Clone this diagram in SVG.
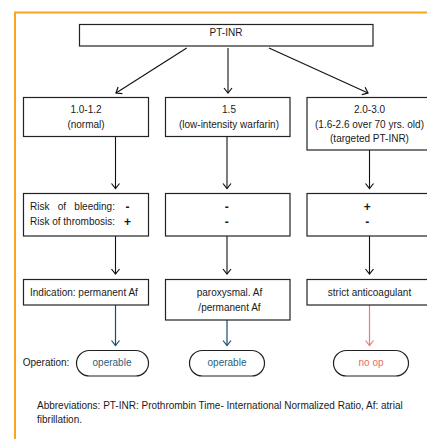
<svg xmlns="http://www.w3.org/2000/svg" width="427" height="439" viewBox="0 0 427 439">
<defs>
<style>
text{font-family:"Liberation Sans",Arial,sans-serif;font-size:10px;fill:#1a1a1a}
.c{text-anchor:middle}
.box{fill:#fff;stroke:#222;stroke-width:1.2}
.pill{fill:#fff;stroke:#222;stroke-width:1.2}
.ln{fill:none;stroke:#111;stroke-width:1.1}
.lb{fill:none;stroke:#174d6e;stroke-width:1.2}
.lr{fill:none;stroke:#ee7777;stroke-width:1.2}
.sign{font-size:12px;font-weight:bold}
.op{fill:#2d5d7b}
.no{fill:#ea6b6b}
</style>
<marker id="ak" markerUnits="userSpaceOnUse" markerWidth="12" markerHeight="12" refX="0" refY="0" viewBox="-6 -6 12 12" orient="auto" overflow="visible"><path d="M-5,-4 L0,0 L-5,4" fill="none" stroke="#111" stroke-width="1.2"/></marker>
<marker id="ab" markerUnits="userSpaceOnUse" markerWidth="12" markerHeight="12" refX="0" refY="0" viewBox="-6 -6 12 12" orient="auto" overflow="visible"><path d="M-5,-4 L0,0 L-5,4" fill="none" stroke="#174d6e" stroke-width="1.2"/></marker>
<marker id="ar" markerUnits="userSpaceOnUse" markerWidth="12" markerHeight="12" refX="0" refY="0" viewBox="-6 -6 12 12" orient="auto" overflow="visible"><path d="M-5,-4 L0,0 L-5,4" fill="none" stroke="#ee7777" stroke-width="1.2"/></marker>
</defs>
<rect width="427" height="439" fill="#fff"/>
<rect x="15" y="12.5" width="430" height="440" fill="none" stroke="#f6a623" stroke-width="2"/>

<g id="connectors">
<line class="ln" x1="186.7" y1="48" x2="116" y2="93" marker-end="url(#ak)"/>
<line class="ln" x1="228" y1="48" x2="228" y2="93" marker-end="url(#ak)"/>
<line class="ln" x1="269" y1="48" x2="368" y2="93" marker-end="url(#ak)"/>
<line class="ln" x1="115.5" y1="137" x2="115.5" y2="188.5" marker-end="url(#ak)"/>
<line class="ln" x1="227" y1="137" x2="227" y2="188.5" marker-end="url(#ak)"/>
<line class="ln" x1="369.5" y1="150" x2="369.5" y2="188.5" marker-end="url(#ak)"/>
<line class="ln" x1="115.5" y1="236" x2="115.5" y2="274" marker-end="url(#ak)"/>
<line class="ln" x1="227" y1="236" x2="227" y2="274" marker-end="url(#ak)"/>
<line class="ln" x1="369.5" y1="236" x2="369.5" y2="274" marker-end="url(#ak)"/>
<line class="lb" x1="115.5" y1="305" x2="115.5" y2="345.5" marker-end="url(#ab)"/>
<line class="lb" x1="227" y1="320" x2="227" y2="345.5" marker-end="url(#ab)"/>
<line class="lr" x1="369.5" y1="305" x2="369.5" y2="345.5" marker-end="url(#ar)"/>
</g>

<g id="n-ptinr">
<rect class="box" x="79.5" y="24.5" width="293.5" height="21.5"/>
<text class="c" x="226" y="36">PT-INR</text>
</g>

<g id="n-normal">
<rect class="box" x="23.5" y="97.5" width="125" height="39"/>
<text class="c" x="86" y="112.5">1.0-1.2</text>
<text class="c" x="86" y="127.5">(normal)</text>
</g>
<g id="n-low">
<rect class="box" x="165.5" y="97.5" width="124.5" height="39"/>
<text class="c" x="229" y="112.5">1.5</text>
<text class="c" x="229" y="127.5">(low-intensity warfarin)</text>
</g>
<g id="n-target">
<rect class="box" x="307" y="97.5" width="130" height="52.5"/>
<text class="c" x="369.5" y="112.5">2.0-3.0</text>
<text class="c" x="369.5" y="127.5">(1.6-2.6 over 70 yrs. old)</text>
<text class="c" x="369.5" y="142">(targeted PT-INR)</text>
</g>

<g id="n-risk1">
<rect class="box" x="23.5" y="193.5" width="125" height="42.5"/>
<text x="30" y="210.3" word-spacing="5.5">Risk of bleeding:</text>
<text x="30" y="225.3">Risk of thrombosis:</text>
<text class="c sign" x="127.5" y="210.8">-</text>
<text class="c sign" x="127.5" y="225.8">+</text>
</g>
<g id="n-risk2">
<rect class="box" x="165.5" y="193.5" width="124.5" height="42.5"/>
<text class="c sign" x="226.7" y="210.8">-</text>
<text class="c sign" x="226.7" y="225.8">-</text>
</g>
<g id="n-risk3">
<rect class="box" x="307" y="193.5" width="130" height="42.5"/>
<text class="c sign" x="367.3" y="210.8">+</text>
<text class="c sign" x="367.3" y="225.8">-</text>
</g>

<g id="n-ind1">
<rect class="box" x="23.5" y="279.5" width="125" height="25.5"/>
<text x="30" y="296.3">Indication: permanent Af</text>
</g>
<g id="n-ind2">
<rect class="box" x="165.5" y="279.5" width="124.5" height="40.5"/>
<text class="c" x="229.5" y="296.3">paroxysmal. Af</text>
<text class="c" x="229.5" y="311">/permanent Af</text>
</g>
<g id="n-ind3">
<rect class="box" x="307" y="279.5" width="130" height="25.5"/>
<text class="c" x="369.5" y="296.3">strict anticoagulant</text>
</g>

<text x="22.7" y="365.5">Operation:</text>
<g id="n-op1">
<rect class="pill" x="76.5" y="350.5" width="72" height="25.5" rx="12.75"/>
<text class="c op" x="112" y="365.5">operable</text>
</g>
<g id="n-op2">
<rect class="pill" x="189.5" y="350.5" width="75" height="25.5" rx="12.75"/>
<text class="c op" x="227" y="365.5">operable</text>
</g>
<g id="n-op3">
<rect class="pill" x="333.5" y="350.5" width="75" height="25.5" rx="12.75"/>
<text class="c no" x="371" y="365.5">no op</text>
</g>

<text x="37" y="408.5">Abbreviations: PT-INR: Prothrombin Time- International Normalized Ratio, Af: atrial</text>
<text x="37" y="423">fibrillation.</text>
</svg>
